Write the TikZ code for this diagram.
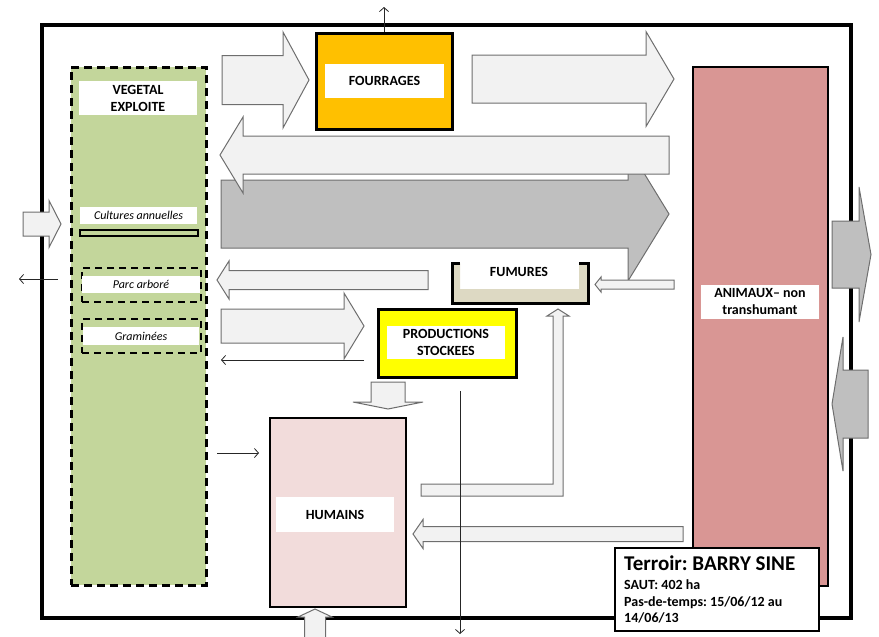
\documentclass[tikz,border=0pt]{standalone}
\usepackage{fontspec}
\setmainfont{Carlito}
\usetikzlibrary{arrows.meta}
\definecolor{vegc}{HTML}{C3D69B}
\definecolor{fourc}{HTML}{FFC000}
\definecolor{prodc}{HTML}{FFFF00}
\definecolor{animc}{HTML}{D99694}
\definecolor{humc}{HTML}{F2DCDB}
\definecolor{fumc}{HTML}{DDD9C3}
\definecolor{lightc}{HTML}{F2F2F2}
\definecolor{darkc}{HTML}{BFBFBF}
\definecolor{edgec}{HTML}{6E6E6E}
% horizontal block arrow: style, tail x, head-base x, tip x, centre y, shaft half, head half
\newcommand\blkH[7]{\draw[#1] (#2,{#5-#6}) -- (#3,{#5-#6}) -- (#3,{#5-#7}) -- (#4,#5) -- (#3,{#5+#7}) -- (#3,{#5+#6}) -- (#2,{#5+#6}) -- cycle;}
% vertical block arrow: style, centre x, tail y, head-base y, tip y, shaft half, head half
\newcommand\blkV[7]{\draw[#1] ({#2-#6},#3) -- ({#2-#6},#4) -- ({#2-#7},#4) -- (#2,#5) -- ({#2+#7},#4) -- ({#2+#6},#4) -- ({#2+#6},#3) -- cycle;}
\tikzset{
  lightarrow/.style={fill=lightc, draw=edgec, line width=1pt},
  darkarrow/.style={fill=darkc, draw=edgec, line width=1pt},
  thinarrow/.style={draw=black!85, line width=0.8pt, -{Straight Barb[length=4pt,width=9pt]}},
  boxstyle/.style={draw=black, line width=3pt, inner sep=0pt},
  labelbox/.style={fill=white, inner sep=0pt, align=center, font=\fontsize{14}{17}\selectfont\bfseries},
  italabel/.style={fill=white, inner sep=0pt, font=\fontsize{12}{14}\selectfont\itshape},
  dashbox/.style={draw=black, line width=2.5pt, dash pattern=on 7pt off 5pt, inner sep=0pt},
  terrline/.style={anchor=base west, inner sep=0pt, font=\fontsize{14}{17}\selectfont\bfseries},
}
\frenchspacing
\begin{document}
\begin{tikzpicture}[x=1pt,y=-1pt]
\useasboundingbox (0,0) rectangle (879,637);
% outer frame
\node[draw=black, line width=4.5pt, minimum width=809, minimum height=593, inner sep=0pt] (frame) at (446.5,321.5) {};
% vegetal
\node[dashbox, line width=3pt, dash pattern=on 8pt off 5pt, fill=vegc, minimum width=135, minimum height=518] (veg) at (138.5,326) {};
\node[labelbox, minimum width=118, minimum height=34] (veglab) at (138,98) {VEGETAL\\EXPLOITE};
\node[italabel, minimum width=117, minimum height=17] (cult) at (138.5,215.5) {Cultures annuelles};
\node[draw=black, line width=2pt, fill=vegc, minimum width=118, minimum height=6, inner sep=0pt] (cultbar) at (139,233) {};
\node[dashbox, minimum width=119, minimum height=34] (parc) at (141.5,285) {};
\node[italabel, minimum width=118, minimum height=17] (parclab) at (141,284.5) {Parc arboré};
\node[dashbox, minimum width=119, minimum height=34] (gram) at (141.5,336) {};
\node[italabel, minimum width=116, minimum height=18] (gramlab) at (141,336) {Graminées};
% fourrages
\node[boxstyle, fill=fourc, minimum width=136, minimum height=96] (four) at (384,81) {};
\node[labelbox, minimum width=119, minimum height=34] (fourlab) at (384.5,81) {FOURRAGES};
% productions
\node[boxstyle, fill=prodc, minimum width=138, minimum height=68] (prod) at (447,343) {};
\node[labelbox, minimum width=118, minimum height=33] (prodlab) at (446,342.5) {PRODUCTIONS\\STOCKEES};
% animaux
\node[boxstyle, line width=2.5pt, fill=animc, minimum width=135, minimum height=519] (anim) at (760.5,326.5) {};
\node[labelbox, minimum width=118, minimum height=34] (animlab) at (760,302) {ANIMAUX– non\\transhumant};
% humains
\node[boxstyle, line width=2.5pt, fill=humc, minimum width=136, minimum height=189] (hum) at (338,512.5) {};
\node[labelbox, minimum width=118, minimum height=35] (humlab) at (335,514.5) {HUMAINS};
% fumures
\fill[fumc] (452,263) -- (452,303) -- (588,303) -- (588,263) -- (579,263) -- (579,289) -- (460,289) -- (460,263) -- cycle;
\draw[line width=3pt] (460,263) -- (452,263) -- (452,303) -- (588,303) -- (588,263) -- (579,263);
\node[font=\fontsize{14}{17}\selectfont\bfseries, inner sep=0pt] (fum) at (519,272) {FUMURES};
% block arrows
\blkH{darkarrow}{221}{628}{669}{214}{34}{67}
\blkH{lightarrow}{669}{243}{220}{155}{19}{38}
\blkH{lightarrow}{222}{283}{309}{80}{24.5}{48}
\blkH{lightarrow}{472}{646}{674}{79}{24}{47.5}
\blkH{lightarrow}{428}{229}{217}{280}{9.5}{19}
\blkH{lightarrow}{221}{344}{364}{326}{17}{33}
\blkH{lightarrow}{674}{601}{595}{284.5}{4.5}{7.5}
\blkH{lightarrow}{683}{423}{413}{534}{7.5}{14.5}
\blkV{lightarrow}{388}{382}{402}{409}{17}{35}
\blkV{lightarrow}{315}{645}{617}{609}{10.5}{17}
\blkH{lightarrow}{23}{49}{61}{224}{12}{23.5}
\blkH{darkarrow}{832}{859}{871}{254.5}{33.5}{67.5}
\blkH{darkarrow}{868}{843}{832}{404}{34}{67}
\draw[lightarrow] (421,484) -- (553,484) -- (553,316) -- (547,316) -- (558,309) -- (569,316) -- (563,316) -- (563,496) -- (421,496) -- cycle;
% terroir
\node[draw=black, line width=2.5pt, fill=white, minimum width=204, minimum height=83, inner sep=0pt] (terr) at (717,589.5) {};
\node[anchor=base west, inner sep=0pt, font=\fontsize{21}{24}\selectfont\bfseries] (t1) at (624,570) {Terroir: BARRY SINE};
\node[terrline] (t2) at (624,589) {SAUT: 402 ha};
\node[terrline] (t3) at (624,606) {Pas-de-temps: 15/06/12 au};
\node[terrline] (t4) at (624,622) {14/06/13};
% thin connectors
\coordinate (topend) at (384,7);
\draw[thinarrow] (four.north) -- (topend);
\coordinate (lo1) at (58,279);
\coordinate (lo2) at (19,279);
\draw[thinarrow] (lo1) -- (lo2);
\coordinate (pa) at (364,360);
\coordinate (pb) at (221,360);
\draw[thinarrow] (pa) -- (pb);
\coordinate (ha) at (217,453);
\coordinate (hb) at (259,453);
\draw[thinarrow] (ha) -- (hb);
\coordinate (va) at (460,391);
\coordinate (vb) at (460,634);
\draw[thinarrow] (va) -- (vb);
\end{tikzpicture}
\end{document}
